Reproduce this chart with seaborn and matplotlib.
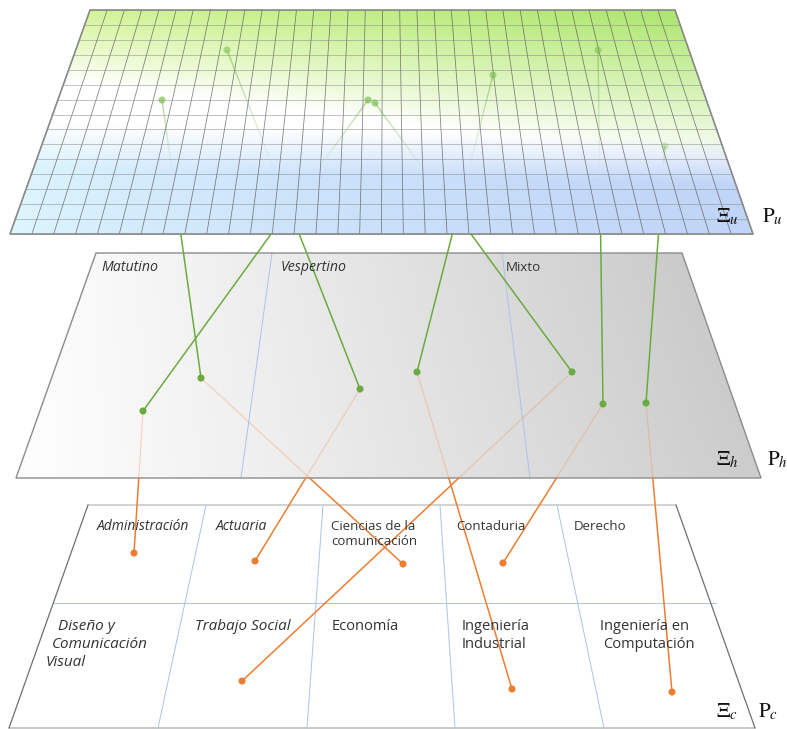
import numpy as np
import pandas as pd
import seaborn as sns
import matplotlib.pyplot as plt
from matplotlib.patches import Polygon

# one row per chain: point on P_u -> point on P_h -> point on P_c (pixel coords)
u_x = [162, 227, 368, 375, 493, 598, 665]
u_y = [100, 50, 100, 103, 75, 50, 146]
h_x = [201, 360, 143, 572, 417, 603, 646]
h_y = [378, 389, 411, 372, 372, 404, 403]
c_x = [403, 255, 134, 242, 512, 503, 672]
c_y = [564, 561, 553, 681, 689, 563, 692]
u_alpha = [0.7, 0.6, 0.7, 0.7, 0.65, 0.6, 0.35]

turnos = ['Matutino', 'Vespertino', 'Mixto']
carreras_1 = ['Administración', 'Actuaria', 'Ciencias de la\ncomunicación', 'Contaduria', 'Derecho']
carreras_2 = ['Diseño y\n Comunicación\nVisual', 'Trabajo Social', 'Economía',
              'Ingeniería\nIndustrial', 'Ingeniería en\nComputación']

df = pd.DataFrame({'ux': u_x, 'uy': u_y, 'hx': h_x, 'hy': h_y, 'cx': c_x, 'cy': c_y})

GREEN = '#6aab3f'
ORANGE = '#ee7d31'
BLUE_LINE = '#a8c4ee'

plane_u = [(90, 10), (675, 10), (753, 234), (10, 234)]
plane_h = [(96, 253), (682, 253), (761, 478), (16, 478)]
plane_c = [(88, 505), (676, 505), (755, 728), (9, 728)]

sns.set_style('white')
plt.rcParams['font.family'] = ['Open Sans', 'DejaVu Sans']
plt.rcParams['mathtext.fontset'] = 'stix'

fig = plt.figure(figsize=(7.87, 7.29), dpi=100)
ax = fig.add_axes([0, 0, 1, 1])


def lerp(a, b, t):
    return (a[0] + (b[0] - a[0]) * t, a[1] + (b[1] - a[1]) * t)


def fill_quad(quad, color_fn, z):
    xs = [p[0] for p in quad]
    ys = [p[1] for p in quad]
    S, T = np.meshgrid(np.linspace(0, 1, 300), np.linspace(0, 1, 150))
    img = np.clip(color_fn(S, T), 0, 1)
    im = ax.imshow(img, extent=(min(xs), max(xs), max(ys), min(ys)), origin='upper',
                   zorder=z, interpolation='bilinear')
    clip = Polygon(quad, closed=True, fc='none', ec='none', transform=ax.transData)
    im.set_clip_path(clip)


def sky(S, T):
    white = np.array([255, 255, 255]) / 255
    gl = np.array([216, 246, 156]) / 255
    gr = np.array([168, 228, 104]) / 255
    bl = np.array([224, 248, 255]) / 255
    br = np.array([192, 212, 247]) / 255
    G = gl * (1 - S[..., None]) + gr * S[..., None]
    g = np.clip(1 - T / (0.28 + 0.42 * S), 0, 1) ** 0.9
    sb = S[..., None] ** 0.6
    B = bl * (1 - sb) + br * sb
    b = np.clip((T - (0.5 + 0.08 * S)) / 0.2, 0, 1)
    top = white * (1 - g[..., None]) + G * g[..., None]
    return top * (1 - b[..., None]) + B * b[..., None]


def grey(S, T):
    v = (254 - 50 * S ** 1.1 - 8 * (1 - T) * S) / 255
    return np.stack([v, v, v], axis=-1)


def white_fill(S, T):
    return np.ones(S.shape + (3,))


fill_quad(plane_u, sky, 1)
fill_quad(plane_h, grey, 1)
fill_quad(plane_c, white_fill, 1)

# grid on P_u
TL, TR, BR, BL = plane_u
for i in range(35):
    a = lerp(TL, TR, i / 34)
    b = lerp(BL, BR, i / 34)
    ax.plot([a[0], b[0]], [a[1], b[1]], color='#4a4a4a', lw=0.55, alpha=0.7, zorder=2)
for j in range(16):
    a = lerp(TL, BL, j / 15)
    b = lerp(TR, BR, j / 15)
    ax.plot([a[0], b[0]], [a[1], b[1]], color='#8a8a8a', lw=0.6, alpha=0.6, zorder=2)
ax.add_patch(Polygon(plane_u, closed=True, fc='none', ec='#8a8a8a', lw=1.2, zorder=3))

# P_h border and shift dividers
ax.add_patch(Polygon(plane_h, closed=True, fc='none', ec='#8c8c8c', lw=1.0, zorder=3))
ax.plot([272, 241], [253, 478], color=BLUE_LINE, lw=0.7, zorder=2)
ax.plot([502, 530], [253, 478], color=BLUE_LINE, lw=0.7, zorder=2)

# P_c border and cells
ax.plot([88, 676], [505, 505], color='#cfcfcf', lw=1.3, zorder=3)
ax.plot([9, 755], [728, 728], color='#c4c4c4', lw=1.3, zorder=3)
ax.plot([88, 9], [505, 728], color='#6f6f6f', lw=0.9, zorder=3)
ax.plot([676, 755], [505, 728], color='#6f6f6f', lw=0.9, zorder=3)
ax.plot([53, 716], [603, 603], color=BLUE_LINE, lw=0.7, zorder=2)
for xt, xb in [(206, 158), (323, 307), (440, 455), (557, 604)]:
    ax.plot([xt, xb], [505, 728], color=BLUE_LINE, lw=0.7, zorder=2)


def x_at(x0, y0, x1, y1, y):
    return x0 + (y - y0) / (y1 - y0) * (x1 - x0)


for _, r in df.iterrows():
    # fading stub under the upper plane
    y_end = 166
    ys = np.linspace(r.uy, y_end, 13)
    for k in range(12):
        xa = x_at(r.ux, r.uy, r.hx, r.hy, ys[k])
        xb = x_at(r.ux, r.uy, r.hx, r.hy, ys[k + 1])
        ax.plot([xa, xb], [ys[k], ys[k + 1]], color=GREEN, lw=1.0,
                alpha=0.5 * (1 - k / 12), zorder=3, solid_capstyle='butt')
    # solid green from P_u edge down to P_h point
    xs = x_at(r.ux, r.uy, r.hx, r.hy, 234)
    ax.plot([xs, r.hx], [234, r.hy], color=GREEN, lw=1.1, zorder=4)
    # faint orange inside P_h, solid below
    xe = x_at(r.hx, r.hy, r.cx, r.cy, 478)
    ax.plot([r.hx, xe], [r.hy, 478], color=ORANGE, lw=0.8, alpha=0.28, zorder=4)
    ax.plot([xe, r.cx], [478, r.cy], color=ORANGE, lw=1.1, zorder=4)

for k in range(len(df)):
    sns.scatterplot(x=[u_x[k]], y=[u_y[k]], ax=ax, color='#7fbf55', alpha=u_alpha[k],
                    s=26, edgecolor='none', zorder=5, legend=False)
sns.scatterplot(data=df, x='hx', y='hy', ax=ax, color=GREEN, s=26, edgecolor='none',
                zorder=5, legend=False)
sns.scatterplot(data=df, x='cx', y='cy', ax=ax, color=ORANGE, s=26, edgecolor='none',
                zorder=5, legend=False)

TXT = '#333333'
# shift labels
for lab, x, sty, fs in zip(turnos, [101, 281, 506], ['italic', 'italic', 'normal'],
                           [10.2, 10.2, 9.6]):
    ax.text(x, 267, lab, fontsize=fs, style=sty, color=TXT, va='center', ha='left', zorder=6)

# career labels, top row
for lab, x, sty in zip(carreras_1, [97, 216, 331, 456, 574],
                       ['italic', 'italic', 'normal', 'normal', 'normal']):
    fs = 10 if sty == 'italic' else 9.5
    for n, line in enumerate(lab.split('\n')):
        ax.text(x, 527 + 14.5 * n, line, fontsize=fs, style=sty, color=TXT,
                va='center', ha='left', zorder=6)

# career labels, bottom row
for lab, x, sty, dx in zip(carreras_2, [58, 195, 332, 462, 600],
                           ['italic', 'italic', 'normal', 'normal', 'normal'],
                           [-6, 0, 0, 0, 3]):
    fs = 11 if sty == 'italic' else 10.5
    for n, line in enumerate(lab.split('\n')):
        ax.text(x + dx * n, 627 + 18 * n, line.strip(), fontsize=fs, style=sty, color=TXT,
                va='center', ha='left', zorder=6)

# plane names
for sub, y, xx, xp in [('u', 217, 716, 762), ('h', 460, 716, 767), ('c', 712, 716, 758)]:
    ax.text(xx, y, r'$\Xi_{%s}$' % sub, fontsize=15, color='#111111', va='center', ha='left', zorder=6)
    ax.text(xp, y, r'$\mathrm{P}_{%s}$' % sub, fontsize=15, color='#111111', va='center', ha='left', zorder=6)

ax.set_xlim(0, 787)
ax.set_ylim(729, 0)
ax.set_aspect('auto')
ax.axis('off')

plt.savefig('out.png', dpi=100, facecolor='white')
